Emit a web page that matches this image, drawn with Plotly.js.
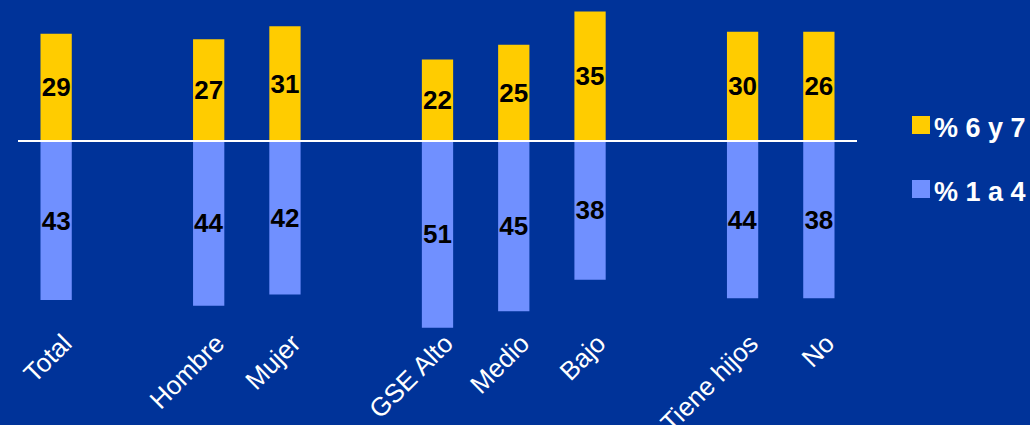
<!DOCTYPE html>
<html>
<head>
<meta charset="utf-8">
<script src="https://cdn.plot.ly/plotly-3.0.1.min.js"></script>
<style>
  html, body { margin: 0; padding: 0; background: #003399; }
  #chart { width: 1030px; height: 425px; }
</style>
</head>
<body>
<div id="chart"></div>
<script>
// Category slots (empty strings are spacer slots between groups)
const slots = [0, 1, 2, 3, 4, 5, 6, 7, 8, 9, 10];
const tickLabels = ["Total", "", "Hombre", "Mujer", "", "GSE Alto", "Medio", "Bajo", "", "Tiene hijos", "No"];
const barSlots = [0, 2, 3, 5, 6, 7, 9, 10];

// Series names
const seriesNames = ["% 6 y 7", "% 1 a 4"];

// % 6 y 7 (printed labels, and bar heights as drawn in the picture)
const labels67 = [29, 27, 31, 22, 25, 35, 30, 26];
const heights67 = [29, 27.5, 31, 22, 26, 35, 29.5, 29.5];

// % 1 a 4 (printed labels, and bar heights as drawn in the picture)
const labels14 = [43, 44, 42, 51, 45, 38, 44, 38];
const heights14 = [43, 44.5, 41.5, 50.5, 46, 37.5, 42.5, 42.5];

const yellow = "#FFCC00";
const lightBlue = "#7090FF";
const bg = "#003399";
const fam = "Liberation Sans, Arial, sans-serif";

const labelFont = { family: fam, size: 26, color: "#000000", weight: "bold" };

const traces = [
  {
    type: "bar",
    name: seriesNames[0],
    x: barSlots,
    y: heights67,
    text: labels67.map(String),
    textposition: "inside",
    insidetextanchor: "middle",
    constraintext: "none",
    textfont: labelFont,
    marker: { color: yellow, line: { width: 0 } },
    width: 0.41,
    hoverinfo: "skip",
    cliponaxis: false
  },
  {
    type: "bar",
    name: seriesNames[1],
    x: barSlots,
    y: heights14.map(v => -v),
    text: labels14.map(String),
    textposition: "inside",
    insidetextanchor: "middle",
    constraintext: "none",
    textfont: labelFont,
    marker: { color: lightBlue, line: { width: 0 } },
    width: 0.41,
    hoverinfo: "skip",
    cliponaxis: false
  }
];

const plotTop = 5, plotBottom = 332, zeroPx = 141, pxPerUnit = 3.7;
const plotLeft = 18, plotRight = 857;
const yMax = (zeroPx - plotTop) / pxPerUnit;
const yMin = -(plotBottom - zeroPx) / pxPerUnit;

// helpers converting legend pixel placement to paper coords
const px = v => (v - plotLeft) / (plotRight - plotLeft);
const py = v => (plotBottom - v) / (plotBottom - plotTop);

const legendItems = [
  { color: yellow, y0: 116, y1: 134, ty: 128 },
  { color: lightBlue, y0: 180, y1: 198, ty: 192 }
];

const shapes = [
  {
    type: "line", xref: "paper", yref: "y",
    x0: 0, x1: 1, y0: 0, y1: 0,
    line: { color: "#FFFFFF", width: 2 },
    layer: "above"
  }
];
const annotations = [];
legendItems.forEach((it, i) => {
  shapes.push({
    type: "rect", xref: "paper", yref: "paper",
    x0: px(912), x1: px(930), y0: py(it.y1), y1: py(it.y0),
    fillcolor: it.color, line: { width: 0 }
  });
  annotations.push({
    xref: "paper", yref: "paper",
    x: px(932), y: py(it.ty),
    xanchor: "left", yanchor: "middle",
    text: "<b>" + seriesNames[i] + "</b>",
    showarrow: false,
    font: { family: fam, size: 27, color: "#FFFFFF" }
  });
});

const layout = {
  width: 1030,
  height: 425,
  paper_bgcolor: bg,
  plot_bgcolor: bg,
  margin: { l: plotLeft, r: 1030 - plotRight, t: plotTop, b: 425 - plotBottom },
  barmode: "relative",
  showlegend: false,
  xaxis: {
    range: [-0.5, 10.5],
    tickmode: "array",
    tickvals: slots,
    ticktext: tickLabels,
    tickangle: -45,
    ticks: "",
    ticklabelshift: 8,
    ticklabelstandoff: -10,
    showgrid: false,
    zeroline: false,
    showline: false,
    tickfont: { family: fam, size: 26, color: "#FFFFFF" },
    fixedrange: true
  },
  yaxis: {
    range: [yMin, yMax],
    showgrid: false,
    zeroline: false,
    showline: false,
    showticklabels: false,
    ticks: "",
    fixedrange: true
  },
  shapes: shapes,
  annotations: annotations
};

Plotly.newPlot("chart", traces, layout, { displayModeBar: false, staticPlot: true });
</script>
</body>
</html>
